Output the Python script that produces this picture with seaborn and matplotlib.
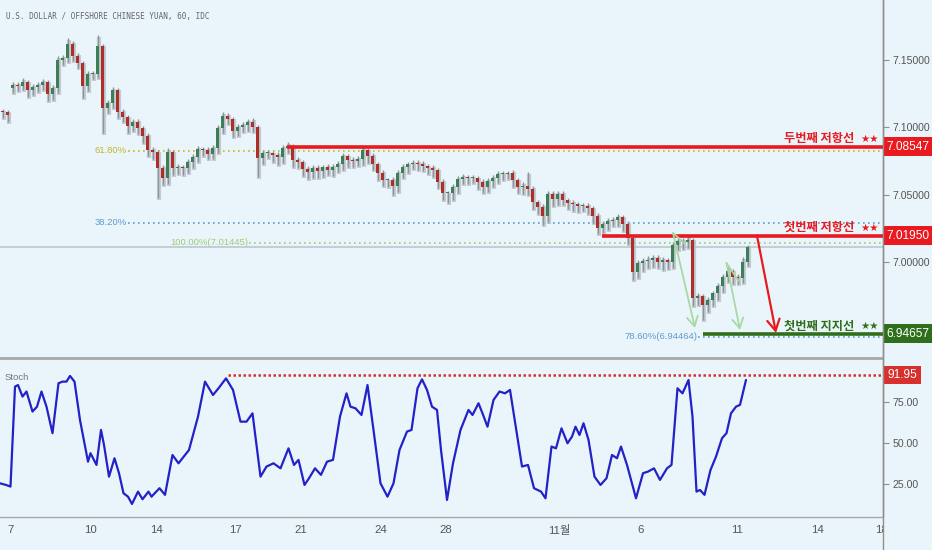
import matplotlib
matplotlib.use("Agg")
import matplotlib.pyplot as plt
import matplotlib.transforms as mtransforms
from matplotlib.patches import Rectangle, FancyArrowPatch
from matplotlib.lines import Line2D
from matplotlib import font_manager
import numpy as np
import pandas as pd
import seaborn as sns

# ---------------- data ----------------
title = "U.S. DOLLAR / OFFSHORE CHINESE YUAN, 60, IDC"

# aggregated candles, one per slot (slot index = time axis)
closes = [7.1114, 7.1092, 7.1315, 7.1308, 7.1337, 7.1278, 7.1300, 7.1315, 7.1337, 7.1248,
          7.1293, 7.1501, 7.1516, 7.1620, 7.1530, 7.1478, 7.1308, 7.1397, 7.1397, 7.1605,
          7.1144, 7.1181, 7.1278, 7.1114, 7.1077, 7.1010, 7.1040, 7.0996, 7.0936, 7.0832,
          7.0817, 7.0698, 7.0624, 7.0817, 7.0698, 7.0706, 7.0698, 7.0743, 7.0780, 7.0840,
          7.0832, 7.0802, 7.0847, 7.0996, 7.1085, 7.1062, 7.0973, 7.1003, 7.1018, 7.1040,
          7.1003, 7.0773, 7.0810, 7.0810, 7.0795, 7.0780, 7.0847, 7.0862, 7.0758, 7.0743,
          7.0691, 7.0669, 7.0698, 7.0676, 7.0706, 7.0684, 7.0706, 7.0728, 7.0788, 7.0758,
          7.0750, 7.0765, 7.0832, 7.0788, 7.0728, 7.0661, 7.0609, 7.0609, 7.0565, 7.0661,
          7.0706, 7.0728, 7.0736, 7.0728, 7.0713, 7.0698, 7.0684, 7.0594, 7.0513, 7.0513,
          7.0557, 7.0617, 7.0632, 7.0624, 7.0624, 7.0594, 7.0557, 7.0602, 7.0624, 7.0654,
          7.0654, 7.0661, 7.0609, 7.0557, 7.0565, 7.0542, 7.0446, 7.0409, 7.0342, 7.0505,
          7.0468, 7.0505, 7.0461, 7.0438, 7.0431, 7.0416, 7.0416, 7.0401, 7.0342, 7.0253,
          7.0282, 7.0305, 7.0312, 7.0334, 7.0282, 7.0178, 6.9926, 6.9993, 7.0007, 7.0015,
          7.0030, 7.0000, 7.0015, 7.0000, 7.0126, 7.0156, 7.0149, 7.0163, 6.9733, 6.9747,
          6.9681, 6.9718, 6.9770, 6.9822, 6.9889, 6.9933, 6.9889, 6.9881, 7.0000, 7.0108]
first_open = 7.1120
gap_opens = {2: 7.1290}

# wick lengths above / below the body, in pips
wick_up_pips = [20, 15, 25, 20, 30, 15, 20, 25, 20, 15, 20, 30, 25, 45, 20,
                20, 15, 25, 20, 80, 15, 25, 20, 15, 20, 15, 20, 25, 15, 20,
                25, 15, 20, 30, 15, 20, 15, 20, 25, 20, 15, 20, 25, 20, 30,
                20, 15, 20, 25, 20, 30, 15, 20, 25, 15, 20, 25, 30, 15, 20,
                15, 20, 25, 20, 15, 20, 25, 20, 25, 15, 20, 20, 30, 15, 20,
                15, 20, 15, 20, 25, 20, 15, 20, 25, 20, 15, 20, 15, 20, 15,
                20, 25, 20, 15, 20, 15, 20, 25, 20, 25, 20, 15, 20, 15, 30,
                100, 20, 15, 20, 25, 20, 25, 20, 15, 20, 15, 20, 25, 15, 20,
                20, 25, 20, 25, 15, 20, 15, 20, 25, 30, 20, 25, 20, 15, 20,
                25, 20, 35, 15, 20, 15, 20, 15, 20, 25, 30, 15, 20, 40, 15]
wick_dn_pips = [45, 50, 35, 40, 30, 50, 35, 40, 35, 55, 45, 35, 40, 30, 40,
                35, 90, 40, 35, 30, 185, 40, 35, 45, 40, 50, 40, 45, 50, 45,
                55, 220, 50, 45, 55, 45, 50, 40, 45, 40, 45, 40, 35, 40, 35,
                40, 45, 35, 40, 45, 40, 140, 45, 40, 50, 60, 45, 40, 50, 45,
                55, 50, 45, 50, 45, 40, 45, 40, 45, 50, 45, 40, 45, 50, 45,
                50, 45, 55, 65, 45, 40, 45, 40, 45, 40, 45, 50, 45, 55, 75,
                50, 45, 40, 45, 40, 50, 45, 40, 45, 40, 45, 40, 50, 45, 50,
                45, 50, 55, 65, 45, 50, 45, 40, 45, 50, 45, 40, 45, 50, 45,
                40, 45, 40, 45, 50, 45, 60, 45, 60, 50, 55, 45, 60, 50, 45,
                40, 50, 45, 60, 55, 110, 50, 45, 50, 45, 40, 50, 45, 40, 30]

# stochastic oscillator (time in slot units, value)
stoch_t = [-0.5, 0.7, 1.6, 2.5, 3.1, 4.0, 4.8, 6.0, 6.9, 7.8,
           8.8, 10.0, 11.2, 12.0, 12.8, 13.5, 14.4, 15.5, 17.1, 17.6,
           18.8, 19.7, 20.3, 21.3, 22.4, 23.3, 24.2, 25.1, 25.9, 27.1,
           28.0, 29.2, 29.8, 31.4, 32.5, 34.0, 35.2, 37.3, 39.1, 40.5,
           42.1, 43.2, 44.7, 46.1, 47.6, 48.8, 50.0, 51.6, 52.8, 54.2,
           55.6, 57.2, 58.3, 59.2, 60.4, 61.3, 62.5, 63.7, 64.9, 66.1,
           67.5, 68.8, 69.6, 70.6, 71.8, 73.0, 74.2, 75.6, 77.0, 78.2,
           79.4, 80.9, 81.8, 83.0, 83.9, 84.9, 85.9, 86.9, 87.7, 88.9,
           90.1, 91.6, 93.2, 94.0, 95.2, 96.0, 97.0, 98.2, 99.4, 100.5,
           101.5, 102.7, 103.9, 105.1, 106.3, 107.7, 108.6, 109.8, 110.7, 111.8,
           113.0, 113.9, 114.6, 115.4, 116.2, 117.2, 118.4, 119.6, 120.8, 121.9,
           122.9, 123.7, 124.9, 126.7, 128.1, 129.1, 130.3, 131.5, 132.9, 133.8,
           135.0, 136.0, 137.2, 138.0, 138.8, 139.5, 140.4, 141.6, 142.7, 143.9,
           144.8, 145.7, 146.7, 147.5, 148.7]
stoch_k = [25.2, 24.2, 23.2, 84.6, 85.6, 78.5, 81.6, 69.3, 72.3, 81.6,
           72.3, 56.0, 86.7, 87.7, 87.7, 91.2, 87.7, 64.1, 38.5, 43.7,
           36.5, 58.0, 48.8, 29.3, 40.6, 31.4, 19.1, 17.0, 12.5, 20.1,
           15.4, 20.1, 17.0, 22.2, 18.1, 42.6, 37.5, 45.7, 66.2, 87.7,
           79.5, 83.6, 89.7, 82.6, 63.1, 63.1, 68.2, 29.3, 35.5, 37.5,
           34.4, 46.7, 36.5, 39.6, 24.2, 28.3, 34.4, 30.4, 38.5, 39.6,
           66.2, 80.5, 72.3, 71.3, 67.2, 85.6, 58.0, 25.2, 17.0, 25.2,
           45.7, 57.0, 58.0, 83.6, 89.1, 82.6, 72.3, 70.3, 45.7, 15.0,
           37.5, 58.0, 70.3, 67.2, 74.4, 68.2, 60.0, 76.4, 81.6, 80.5,
           82.6, 59.0, 35.5, 36.5, 22.2, 20.1, 16.0, 47.8, 46.7, 59.0,
           49.8, 53.9, 60.0, 54.9, 62.1, 51.9, 29.3, 24.2, 28.3, 42.6,
           40.6, 47.8, 36.5, 16.0, 31.4, 32.4, 34.4, 27.3, 34.4, 36.5,
           83.6, 80.5, 88.7, 66.2, 20.1, 21.1, 18.1, 33.4, 41.6, 52.9,
           56.0, 68.2, 72.3, 73.4, 88.7]

date_tick_pos = [1.7, 17.5, 30.7, 46.5, 59.7, 75.7, 88.7, 111.3, 127.7, 146.9, 162.9, 175.7]
date_tick_labels = ["7", "10", "14", "17", "21", "24", "28", "11월", "6", "11", "14", "18"]
price_ticks = [7.15, 7.10, 7.05, 7.00]
stoch_ticks = [75, 50, 25]

# analyst levels
level_values = [7.08547, 7.01950, 6.94657]
level_texts = ["두번째 저항선", "첫번째 저항선", "첫번째 지지선"]
level_stars = "★★"
level_start = [56.9, 119.9, 140.1]
fib_values = [7.0825, 7.0292, 7.01445, 6.94464]
fib_texts = ["61.80%", "38.20%", "100.00%(7.01445)", "78.60%(6.94464)"]
fib_start = [25.1, 25.1, 49.3, 139.1]
stoch_level = 91.95
stoch_level_start = 45.1
# arrows: (t0, p0, t1, p1)
red_arrow = (150.9, 7.0195, 154.7, 6.9473)
green_arrows = [(134.1, 7.0215, 138.5, 6.9510), (144.8, 6.9993, 147.5, 6.9495)]
green_legs = [(134.1, 7.0215, 136.4, 7.0140), (144.8, 6.9993, 147.2, 6.9860)]

# ---------------- style ----------------
BG = "#EAF5FB"
RED = "#E8191F"
DKGREEN = "#2F6E1A"
BULL = "#3A7F57"
BEAR = "#AE2F2A"
TXT = "#555555"
AXC = "#8F8F8F"

sns.set_theme(style="white", rc={"axes.facecolor": BG, "figure.facecolor": BG})
names = {f.name for f in font_manager.fontManager.ttflist}
HAS_NARROW = "Liberation Sans Narrow" in names
SANS = "Liberation Sans Narrow" if HAS_NARROW else "Liberation Sans"
CJK = "Noto Sans CJK KR"
plt.rcParams["font.family"] = [SANS, "DejaVu Sans", CJK]
FS_TICK = 8.8 if HAS_NARROW else 7.6
FS_TAG = 10.0 if HAS_NARROW else 8.6

W, H = 932, 550
fig = plt.figure(figsize=(W / 100, H / 100), dpi=100)
axw = 883 / W
ax = fig.add_axes([0, 192 / H, axw, 358 / H])
ax2 = fig.add_axes([0, 33 / H, axw, 158 / H])
XMIN, XMAX = -0.5, 176.1
PMIN, PMAX = 6.92868, 7.19465
SMIN, SMAX = 4.5, 101.6
for a in (ax, ax2):
    a.set_facecolor(BG)
    a.set_xlim(XMIN, XMAX)
ax.set_ylim(PMIN, PMAX)
ax2.set_ylim(SMIN, SMAX)

# ---------------- candles ----------------
opens = [first_open] + closes[:-1]
for i, v in gap_opens.items():
    opens[i] = v
df = pd.DataFrame({"t": np.arange(len(closes)), "open": opens, "close": closes})
df["high"] = np.maximum(df["open"], df["close"]) + np.array(wick_up_pips) / 1e4
df["low"] = np.minimum(df["open"], df["close"]) - np.array(wick_dn_pips) / 1e4
up = df["close"] >= df["open"]
ppx = (PMAX - PMIN) / 358
# soft grey shadow band under the candles
ax.vlines(df["t"] + 0.35, df["low"] - 2 * ppx, df["high"] - 2 * ppx, color="#B9BFC4",
          lw=3.0, alpha=0.75, zorder=2)
ax.vlines(df["t"], df["low"], df["high"], color="#8E9499", lw=1.0, zorder=2.5)
body = (df["close"] - df["open"]).abs().clip(lower=0.0004)
ax.bar(df["t"], body, bottom=np.minimum(df["open"], df["close"]), width=0.7,
       color=np.where(up, BULL, BEAR), linewidth=0, zorder=3)

# current price line
ax.axhline(closes[-1], color="#C3CDD3", lw=1.4, zorder=1)

# fib levels
fib_colors = ["#C8B52A", "#5B9BD5", "#9CCB7C", "#5B9BD5"]
for v, s, c, txt in zip(fib_values, fib_start, fib_colors, fib_texts):
    ax.plot([s, XMAX], [v, v], color=c, lw=1.2, ls=(0, (1, 2)), zorder=1.5)
    ax.text(s - 0.2, v, txt, color=c, fontsize=6.8, ha="right", va="center", zorder=4)

# analyst horizontal levels
trans = mtransforms.blended_transform_factory(ax.transAxes, ax.transData)
level_colors = [RED, RED, DKGREEN]
for v, s, c, txt in zip(level_values, level_start, level_colors, level_texts):
    ax.plot([s, XMAX], [v, v], color=c, lw=2.6, solid_capstyle="butt", zorder=5)
    ax.annotate(level_stars, xy=(1 - 4 / 883, v), xycoords=trans, xytext=(0, 2.0),
                textcoords="offset points", ha="right", va="bottom", color=c,
                fontsize=7.4, family=["DejaVu Sans"], zorder=6)
    ax.annotate(txt, xy=(1 - 4 / 883, v), xycoords=trans, xytext=(-17.5, 1.2),
                textcoords="offset points", ha="right", va="bottom", color=c,
                fontsize=8.8, fontweight="bold", family=[CJK, "DejaVu Sans"], zorder=6)

# arrows
def arrow(axis, seg, color, lw, hl, hw):
    p = FancyArrowPatch((seg[0], seg[1]), (seg[2], seg[3]),
                        arrowstyle=f"->,head_length={hl},head_width={hw}",
                        mutation_scale=1, color=color, lw=lw, shrinkA=0, shrinkB=0, zorder=6)
    axis.add_patch(p)

arrow(ax, red_arrow, RED, 1.6, 8, 4.5)
for seg in green_arrows:
    arrow(ax, seg, "#A8D8A4", 1.3, 7, 4)
for seg in green_legs:
    ax.plot([seg[0], seg[2]], [seg[1], seg[3]], color="#A8D8A4", lw=1.3, zorder=6)

# price tags on the right scale
tag_colors = [RED, RED, DKGREEN]
for v, c in zip(level_values, tag_colors):
    ax.add_patch(Rectangle((1.0, v - 9.5 * ppx), 49 / 883, 19 * ppx, transform=trans,
                           facecolor=c, edgecolor="none", clip_on=False, zorder=8))
    ax.text(1 + 3 / 883, v, f"{v:.5f}", transform=trans, color="white", fontsize=FS_TAG,
            ha="left", va="center", clip_on=False, zorder=9)

ax.set_xticks([])
ax.yaxis.tick_right()
ax.set_yticks(price_ticks)
ax.set_yticklabels([f"{v:.5f}" for v in price_ticks])
ax.tick_params(axis="y", right=True, labelright=True, length=4, width=0.8, color=AXC,
               labelcolor=TXT, labelsize=FS_TICK, pad=3)

ax.text(6 / 883, 1 - 17 / 358, title, transform=ax.transAxes,
        fontsize=7.0 if HAS_NARROW else 5.5,
        family=[SANS] if HAS_NARROW else ["DejaVu Sans Mono"],
        color="#666666", va="center", ha="left")

# ---------------- stochastic ----------------
sdf = pd.DataFrame({"t": stoch_t, "k": stoch_k})
sns.lineplot(data=sdf, x="t", y="k", ax=ax2, color="#2222C8", lw=1.6, sort=False,
             estimator=None, zorder=3)
ax2.plot([stoch_level_start, XMAX], [stoch_level, stoch_level], color="#D8302C",
         lw=1.8, ls=(0, (1, 1)), zorder=2)
spx = (SMAX - SMIN) / 158
trans2 = mtransforms.blended_transform_factory(ax2.transAxes, ax2.transData)
ax2.add_patch(Rectangle((1.0, stoch_level - 9 * spx), 38 / 883, 18 * spx, transform=trans2,
                        facecolor="#D8302C", edgecolor="none", clip_on=False, zorder=8))
ax2.text(1 + 5 / 883, stoch_level, f"{stoch_level:.2f}", transform=trans2, color="white",
         fontsize=FS_TAG, ha="left", va="center", clip_on=False, zorder=9)
ax2.text(5 / 883, 1 - 19 / 158, "Stoch", transform=ax2.transAxes, fontsize=6.8,
         color="#777777", va="center", ha="left")

ax2.set_xlabel("")
ax2.set_ylabel("")
ax.set_ylabel("")
ax2.yaxis.tick_right()
ax2.set_yticks(stoch_ticks)
ax2.set_yticklabels([f"{v:.2f}" for v in stoch_ticks])
ax2.tick_params(axis="y", right=True, labelright=True, left=False, labelleft=False,
                length=4, width=0.8, color=AXC, labelcolor=TXT, labelsize=FS_TICK, pad=3)
ax2.set_xticks(date_tick_pos)
ax2.set_xticklabels(date_tick_labels, family=[SANS, CJK])
ax2.tick_params(axis="x", bottom=True, length=0, labelcolor=TXT, labelsize=FS_TICK + 0.6, pad=6)

# spines
for a in (ax, ax2):
    a.spines["left"].set_visible(False)
    a.spines["right"].set_color(AXC)
    a.spines["right"].set_linewidth(1.0)
ax.spines["top"].set_visible(False)
ax.spines["bottom"].set_color("#A8A8A8")
ax.spines["bottom"].set_linewidth(1.3)
ax2.spines["top"].set_color("#A8A8A8")
ax2.spines["top"].set_linewidth(1.3)
ax2.spines["bottom"].set_color("#A8A8A8")
ax2.spines["bottom"].set_linewidth(1.0)

# right price-scale strip in the date row (clips the last date label)
fig.add_artist(Rectangle((axw, 0), 1 - axw, 33 / H, transform=fig.transFigure,
                         facecolor=BG, edgecolor="none", zorder=10))
fig.add_artist(Line2D([axw, axw], [0, 1], transform=fig.transFigure, color=AXC, lw=1.0, zorder=11))

fig.savefig("out.png", dpi=100, facecolor=BG)
